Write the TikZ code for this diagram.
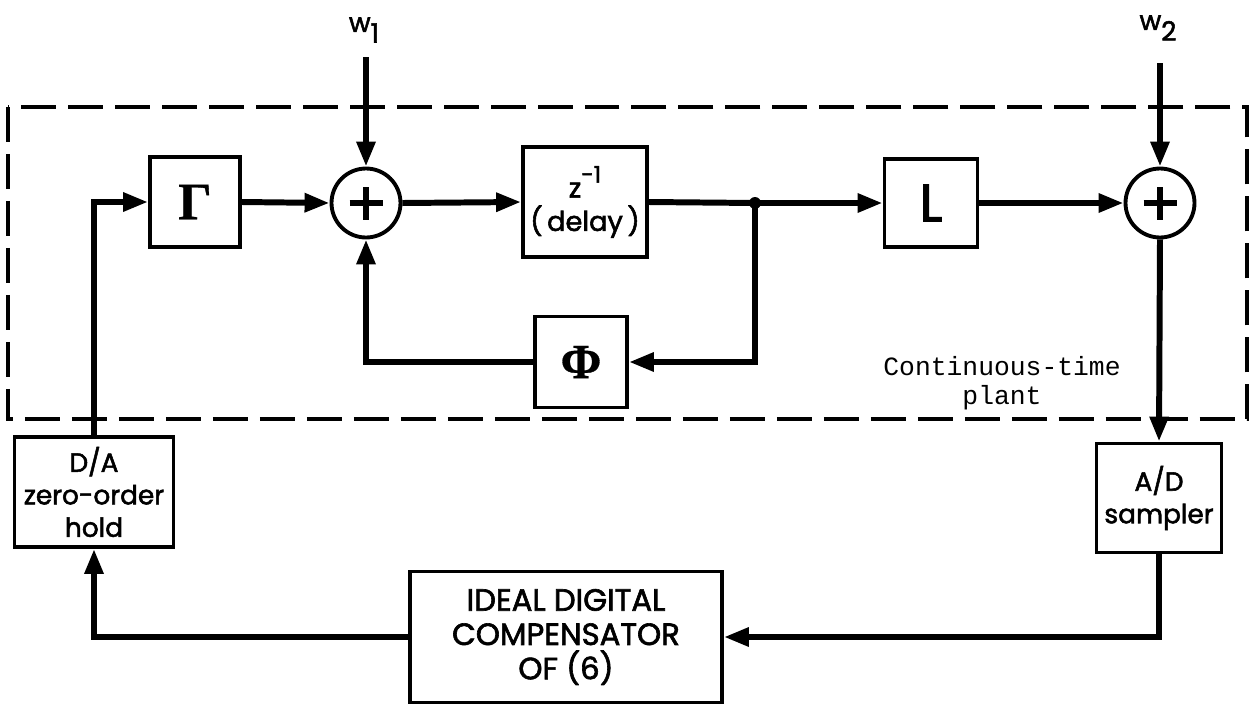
\documentclass[tikz,border=0pt]{standalone}
\usepackage{fontspec}
\setmainfont{Poppins}[FakeBold=2]
\newfontfamily\monof{Liberation Mono}
\newfontfamily\grk{Liberation Serif}[FakeBold=0.6]
\usetikzlibrary{arrows.meta,shapes.geometric}
\begin{document}
\begin{tikzpicture}[x=0.02cm,y=-0.02cm,
  blk/.style={draw,line width=2.2pt,inner sep=0pt,align=center},
  sumnode/.style={circle,draw,line width=2.2pt,minimum size=1.38cm,inner sep=0pt,
    path picture={\draw[line width=3pt] (path picture bounding box.center) ++(-0.33cm,0) -- ++(0.66cm,0)
      (path picture bounding box.center) ++(0,-0.33cm) -- ++(0,0.66cm);}},
  conn/.style={line width=3.4pt,-{Triangle[length=0.5cm,width=0.36cm]}},
  wire/.style={line width=3.4pt},
  plantbox/.style={line width=2.5pt,dash pattern=on 0.7cm off 0.24cm},
  lbl/.style={font=\fontsize{15}{18.5}\selectfont,align=center},
  biglbl/.style={font=\fontsize{17.5}{19.5}\selectfont,align=center}
]
\useasboundingbox (0,0) rectangle (1251,707);

% dashed plant boundary
\draw[plantbox] (8,107) rectangle (1247,419);

% blocks
\node[blk,minimum width=1.8cm,minimum height=1.8cm] (G) at (195,202) {\grk\bfseries\fontsize{30}{30}\selectfont Γ};
\node[sumnode] (S1) at (366,203) {};
\node[blk,minimum width=2.48cm,minimum height=2.2cm,font=\fontsize{15.5}{19}\selectfont] (D) at (585,202)
  {z\raisebox{0.55em}{\fontsize{13}{13}\selectfont -1}\\(\,delay\,)};
\coordinate (J) at (755,203);
\node[blk,minimum width=1.86cm,minimum height=1.76cm] (L) at (931,203) {\fontsize{30}{32}\selectfont L};
\node[sumnode] (S2) at (1160,203) {};
\node[blk,minimum width=1.84cm,minimum height=1.82cm] (P) at (581,362) {\grk\bfseries\fontsize{28}{30}\selectfont Φ};
\node[blk,lbl,minimum width=3.18cm,minimum height=2.2cm] (DA) at (94,492) {D/A\\zero-order\\hold};
\node[blk,lbl,minimum width=2.5cm,minimum height=2.18cm] (AD) at (1159,498) {A/D\\sampler};
\node[blk,biglbl,minimum width=6.24cm,minimum height=2.62cm] (C) at (566,637) {IDEAL DIGITAL\\COMPENSATOR\\OF (6)};

% inputs
\node[font=\fontsize{15}{15}\selectfont] (w1) at (364,30) {w\raisebox{-0.4em}{1}};
\coordinate (w1s) at (366,57);
\node[font=\fontsize{15}{15}\selectfont] (w2) at (1158,28) {w\raisebox{-0.4em}{2}};
\coordinate (w2s) at (1160,63);

% plant caption
\node[font=\monof\fontsize{15}{16.5}\selectfont,align=center] (cap) at (1002,383) {Continuous-time\\plant};

% connectors
\draw[conn] (DA.north) |- (G.west);
\draw[conn] (G.east) -- (S1.west);
\draw[conn] (S1.east) -- (D.west);
\draw[wire] (D.east) -- (J);
\draw[conn] (J) -- (L.west);
\draw[conn] (L.east) -- (S2.west);
\draw[conn] (w1s) -- (S1.north);
\draw[conn] (w2s) -- (S2.north);
\draw[conn] (S2.south) -- (AD.north);
\draw[conn] (AD.south) |- (C.east);
\draw[conn] (C.west) -| (DA.south);
\draw[conn] (J) |- (P.east);
\draw[conn] (P.west) -| (S1.south);
\fill (J) circle (0.12cm);
\end{tikzpicture}
\end{document}
